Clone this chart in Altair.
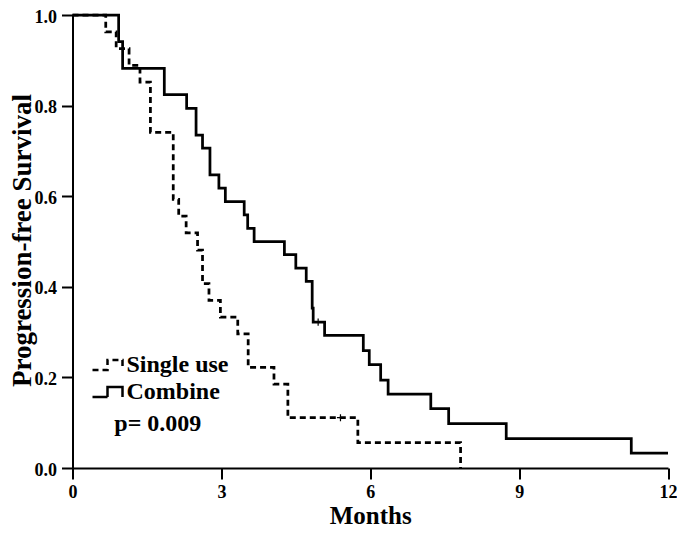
import altair as alt
import pandas as pd

# Kaplan-Meier step points (time in months, survival after event)
combine_t = [0, 0.93, 1.01, 1.85, 2.30, 2.49, 2.62, 2.77, 2.95, 3.08, 3.46, 3.53, 3.66,
             4.27, 4.50, 4.71, 4.83, 4.85, 5.08, 5.86, 5.98, 6.21, 6.36, 7.22, 7.58,
             8.74, 11.26, 12.0]
combine_s = [1.0, 0.941, 0.882, 0.824, 0.794, 0.735, 0.706, 0.647, 0.618, 0.588, 0.559,
             0.529, 0.500, 0.471, 0.441, 0.412, 0.353, 0.322, 0.293, 0.259, 0.228, 0.194,
             0.163, 0.131, 0.098, 0.065, 0.033, 0.033]

single_t = [0, 0.67, 0.88, 1.14, 1.36, 1.57, 2.03, 2.14, 2.29, 2.52, 2.62, 2.75, 2.98,
            3.33, 3.54, 4.06, 4.34, 5.75, 7.82]
single_s = [1.0, 0.963, 0.926, 0.889, 0.852, 0.741, 0.593, 0.556, 0.519, 0.481, 0.407,
            0.370, 0.333, 0.296, 0.222, 0.185, 0.111, 0.056, 0.0]

# censored observations
censor_t = [4.95, 5.40]
censor_s = [0.322, 0.111]

groups = ["Single use", "Combine"]
x_ticks = [0, 3, 6, 9, 12]
y_ticks = [0.0, 0.2, 0.4, 0.6, 0.8, 1.0]

p_label = "p= 0.009"
p_pos = (1.72, 0.097)

df = pd.concat([
    pd.DataFrame({"t": single_t, "s": single_s, "group": "Single use", "order": range(len(single_t))}),
    pd.DataFrame({"t": combine_t, "s": combine_s, "group": "Combine", "order": range(len(combine_t))}),
])
cens = pd.DataFrame({"t": censor_t, "s": censor_s})
ptxt = pd.DataFrame({"t": [p_pos[0]], "s": [p_pos[1]], "label": [p_label]})

FONT = "Liberation Serif"

xscale = alt.Scale(domain=[0, 12], nice=False, zero=False)
yscale = alt.Scale(domain=[0, 1], nice=False, zero=False)

xaxis = alt.Axis(values=x_ticks, title="Months", titleFontSize=25, titleFont=FONT,
                 titleFontWeight="bold", titleColor="black", titleY=55,
                 titleBaseline="alphabetic", labelFontSize=18, labelPadding=4,
                 labelFlush=False)
yaxis = alt.Axis(values=y_ticks, format=".1f", title="Progression-free Survival",
                 titleFontSize=27, titleFont=FONT, titleFontWeight="bold", titleColor="black",
                 titleX=-50, titleY=225, titleBaseline="middle", titleAlign="center",
                 titleAngle=270, labelFontSize=18, labelPadding=5, labelFlush=False,
                 labelOffset=2)

legend_symbol = "M-2,0.67H0V-0.67H2V0.67"

lines = alt.Chart(df).mark_line(interpolate="step-after", color="black", strokeWidth=2.75).encode(
    x=alt.X("t:Q", scale=xscale, axis=xaxis),
    y=alt.Y("s:Q", scale=yscale, axis=yaxis),
    order="order:Q",
    strokeDash=alt.StrokeDash(
        "group:N",
        scale=alt.Scale(domain=groups, range=[[6, 4], [1, 0]]),
        legend=alt.Legend(title=None, orient="none", legendX=23, legendY=338,
                          symbolType=legend_symbol, symbolSize=225, symbolStrokeWidth=2.5,
                          symbolStrokeColor="black", symbolFillColor="transparent",
                          labelFont=FONT, labelFontSize=24, labelFontWeight="bold",
                          labelColor="black", labelOffset=7, rowPadding=3, padding=0),
    ),
)

censor = alt.Chart(cens).mark_point(shape="M-1,0H1M0,-1V1", size=50, color="black",
                                    strokeWidth=1.2, filled=False, opacity=1).encode(
    x=alt.X("t:Q", scale=xscale),
    y=alt.Y("s:Q", scale=yscale),
)

ptext = alt.Chart(ptxt).mark_text(font=FONT, fontSize=24, fontWeight="bold", color="black",
                                   align="center", baseline="middle").encode(
    x=alt.X("t:Q", scale=xscale),
    y=alt.Y("s:Q", scale=yscale),
    text="label:N",
)

chart = (lines + censor + ptext).properties(
    width=595.5, height=453,
    autosize=alt.AutoSizeParams(type="none"),
    padding={"left": 64.5, "top": 7, "right": 9, "bottom": 61},
    background="white",
).configure_view(stroke=None).configure_axis(
    grid=False, domainColor="black", domainWidth=2, tickColor="black", tickWidth=2,
    tickSize=11, labelFont=FONT, labelFontWeight="bold", labelColor="black",
)

chart.save("out.html", embed_options={"renderer": "svg", "actions": False})
